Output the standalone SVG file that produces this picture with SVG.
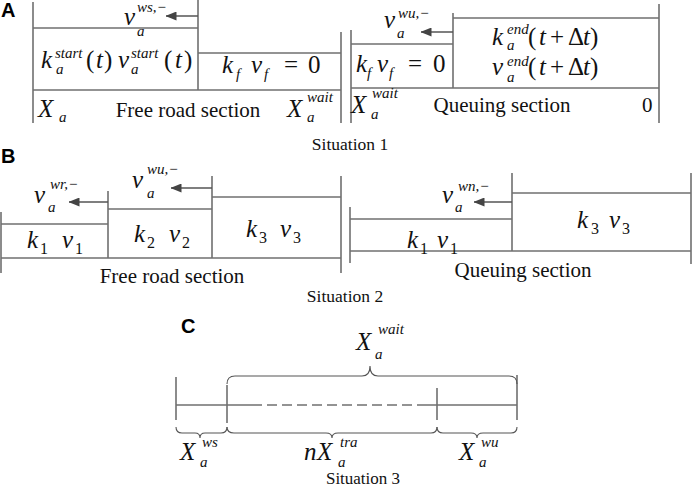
<svg xmlns="http://www.w3.org/2000/svg" width="692" height="488" viewBox="0 0 692 488">
<defs>
<marker id="ah" viewBox="0 0 11 9" refX="10.5" refY="4.5" markerWidth="11" markerHeight="9" markerUnits="userSpaceOnUse" orient="auto">
<path d="M0,0 L11,4.5 L0,9 Z" fill="#444"/>
</marker>
</defs>
<style>
.ln{stroke:#707070;stroke-width:1.6;fill:none}
.ar{stroke:#555;stroke-width:1.5;fill:none}
.br{stroke:#555;stroke-width:1.1;fill:none}
.m{font-family:"Liberation Serif",serif;font-style:italic;font-size:25px;fill:#111}
.u{font-family:"Liberation Serif",serif;font-size:25px;fill:#111}
.s{font-family:"Liberation Serif",serif;font-style:italic;font-size:15px;fill:#111}
.sn{font-family:"Liberation Serif",serif;font-size:16px;fill:#111}
.t{font-family:"Liberation Serif",serif;font-size:21px;fill:#111}
.cap{font-family:"Liberation Serif",serif;font-size:17.5px;fill:#111;text-anchor:middle}
.lbl{font-family:"Liberation Sans",Arial,sans-serif;font-weight:bold;font-size:20px;fill:#000}
</style>
<rect width="692" height="488" fill="#fff"/>

<text class="lbl" x="1" y="17">A</text>
<text class="lbl" x="1" y="163">B</text>
<text class="lbl" x="181" y="333">C</text>

<g id="connectors">
<!-- Panel A left -->
<path class="ln" d="M33,2 V123 M33,28 H198 M198,0 V90 M198,53 H341 M341,32 V123 M33,90 H341"/>
<path class="ar" d="M198,16 H166" marker-end="url(#ah)"/>
<!-- Panel A right -->
<path class="ln" d="M351,30 V123 M351,44 H453 M453,13 V88 M453,18 H659 M659,4 V123 M351,88 H659"/>
<path class="ar" d="M453,32 H421" marker-end="url(#ah)"/>
<!-- Panel B left -->
<path class="ln" d="M1,212 V273 M1,224 H108 M108,191 V258 M108,209 H212 M212,176 V258 M212,197 H341 M341,176 V273 M1,258 H341"/>
<path class="ar" d="M108,202 H69" marker-end="url(#ah)"/>
<path class="ar" d="M212,188 H171" marker-end="url(#ah)"/>
<!-- Panel B right -->
<path class="ln" d="M350,207 V263 M350,219 H512 M512,173 V251 M512,193 H691 M691,173 V264 M350,251 H691"/>
<path class="ar" d="M512,202 H474" marker-end="url(#ah)"/>
<!-- Panel C -->
<path class="ln" d="M176,377 V420 M227,385 V423 M437,388 V420 M517,375 V420 M176,405 H252 M420,405 H517"/>
<path class="ln" d="M252,405 H420" stroke-dasharray="10,5"/>
<path class="br" d="M227,384 Q227,376 235,376 L362,376 Q370,376 370,366 Q370,376 378,376 L509,376 Q517,376 517,384"/>
<path class="br" d="M176,427 Q176,433 182,433 L195,433 Q200,433 200,438 Q200,433 205,433 L221,433 Q227,433 227,427"/>
<path class="br" d="M227,427 Q227,433 234,433 L326,433 Q332,433 332,438 Q332,433 338,433 L431,433 Q437,433 437,427"/>
<path class="br" d="M437,427 Q437,433 443,433 L471,433 Q477,433 477,438 Q477,433 483,433 L511,433 Q517,433 517,427"/>
</g>

<g id="situation1-free">
<text class="m" x="124" y="25">v</text><text class="s" x="137" y="12">ws,−</text><text class="s" x="137" y="36">a</text>
<text class="m" x="41" y="68">k</text><text class="s" x="55" y="58">start</text><text class="s" x="56" y="74">a</text>
<text class="u" x="86" y="68">(</text><text class="m" x="96" y="68">t</text><text class="u" x="104" y="68">)</text>
<text class="m" x="118" y="68">v</text><text class="s" x="131" y="58">start</text><text class="s" x="131" y="74">a</text>
<text class="u" x="164" y="68">(</text><text class="m" x="175" y="68">t</text><text class="u" x="184" y="68">)</text>
<text class="m" x="222" y="73">k</text><text class="s" x="236" y="79">f</text>
<text class="m" x="251" y="73">v</text><text class="s" x="264" y="79">f</text>
<text class="u" x="284" y="73">=</text><text class="u" x="308" y="73">0</text>
<text class="m" x="38" y="117">X</text><text class="s" x="59" y="122">a</text>
<text class="t" x="188" y="117" text-anchor="middle">Free road section</text>
<text class="m" x="287" y="117">X</text><text class="s" x="307" y="102">wait</text><text class="s" x="307" y="122">a</text>
</g>

<g id="situation1-queue">
<text class="m" x="384" y="28">v</text><text class="s" x="398" y="18">wu,−</text><text class="s" x="397" y="38">a</text>
<text class="m" x="356" y="72">k</text><text class="s" x="367" y="78">f</text>
<text class="m" x="377" y="72">v</text><text class="s" x="389" y="78">f</text>
<text class="u" x="408" y="72">=</text><text class="u" x="433" y="72">0</text>
<text class="m" x="492" y="45">k</text><text class="s" x="507" y="34">end</text><text class="s" x="507" y="50">a</text>
<text class="u" x="528" y="45">(</text><text class="m" x="539" y="45">t</text><text class="u" x="550" y="45">+</text><text class="u" x="568" y="45">Δ</text><text class="m" x="583" y="45">t</text><text class="u" x="590" y="45">)</text>
<text class="m" x="492" y="75">v</text><text class="s" x="507" y="66">end</text><text class="s" x="507" y="82">a</text>
<text class="u" x="528" y="75">(</text><text class="m" x="539" y="75">t</text><text class="u" x="550" y="75">+</text><text class="u" x="568" y="75">Δ</text><text class="m" x="583" y="75">t</text><text class="u" x="590" y="75">)</text>
<text class="m" x="351" y="113">X</text><text class="s" x="372" y="98">wait</text><text class="s" x="371" y="119">a</text>
<text class="t" x="502" y="112" text-anchor="middle">Queuing section</text>
<text class="t" x="642" y="112">0</text>
<text class="cap" x="350" y="150">Situation 1</text>
</g>

<g id="situation2-free">
<text class="m" x="34" y="203">v</text><text class="s" x="50" y="189">wr,−</text><text class="s" x="48" y="212">a</text>
<text class="m" x="132" y="188">v</text><text class="s" x="147" y="174">wu,−</text><text class="s" x="147" y="198">a</text>
<text class="m" x="27" y="248">k</text><text class="sn" x="40" y="254">1</text>
<text class="m" x="62" y="248">v</text><text class="sn" x="75" y="254">1</text>
<text class="m" x="134" y="242">k</text><text class="sn" x="147" y="248">2</text>
<text class="m" x="169" y="242">v</text><text class="sn" x="182" y="248">2</text>
<text class="m" x="246" y="237">k</text><text class="sn" x="259" y="243">3</text>
<text class="m" x="280" y="237">v</text><text class="sn" x="293" y="243">3</text>
<text class="t" x="172" y="283" text-anchor="middle">Free road section</text>
<text class="cap" x="345" y="302">Situation 2</text>
</g>

<g id="situation2-queue">
<text class="m" x="442" y="203">v</text><text class="s" x="458" y="191">wn,−</text><text class="s" x="455" y="212">a</text>
<text class="m" x="407" y="248">k</text><text class="sn" x="420" y="254">1</text>
<text class="m" x="437" y="248">v</text><text class="sn" x="450" y="254">1</text>
<text class="m" x="577" y="228">k</text><text class="sn" x="591" y="234">3</text>
<text class="m" x="609" y="228">v</text><text class="sn" x="622" y="234">3</text>
<text class="t" x="523" y="277" text-anchor="middle">Queuing section</text>
</g>

<g id="situation3">
<text class="m" x="356" y="350">X</text><text class="s" x="378" y="334">wait</text><text class="s" x="375" y="359">a</text>
<text class="m" x="180" y="460">X</text><text class="s" x="202" y="447">ws</text><text class="s" x="200" y="467">a</text>
<text class="m" x="304" y="460">n</text><text class="m" x="317" y="460">X</text><text class="s" x="340" y="447">tra</text><text class="s" x="338" y="467">a</text>
<text class="m" x="459" y="460">X</text><text class="s" x="481" y="447">wu</text><text class="s" x="479" y="467">a</text>
<text class="cap" x="363" y="484" style="font-size:17px">Situation 3</text>
</g>
</svg>
